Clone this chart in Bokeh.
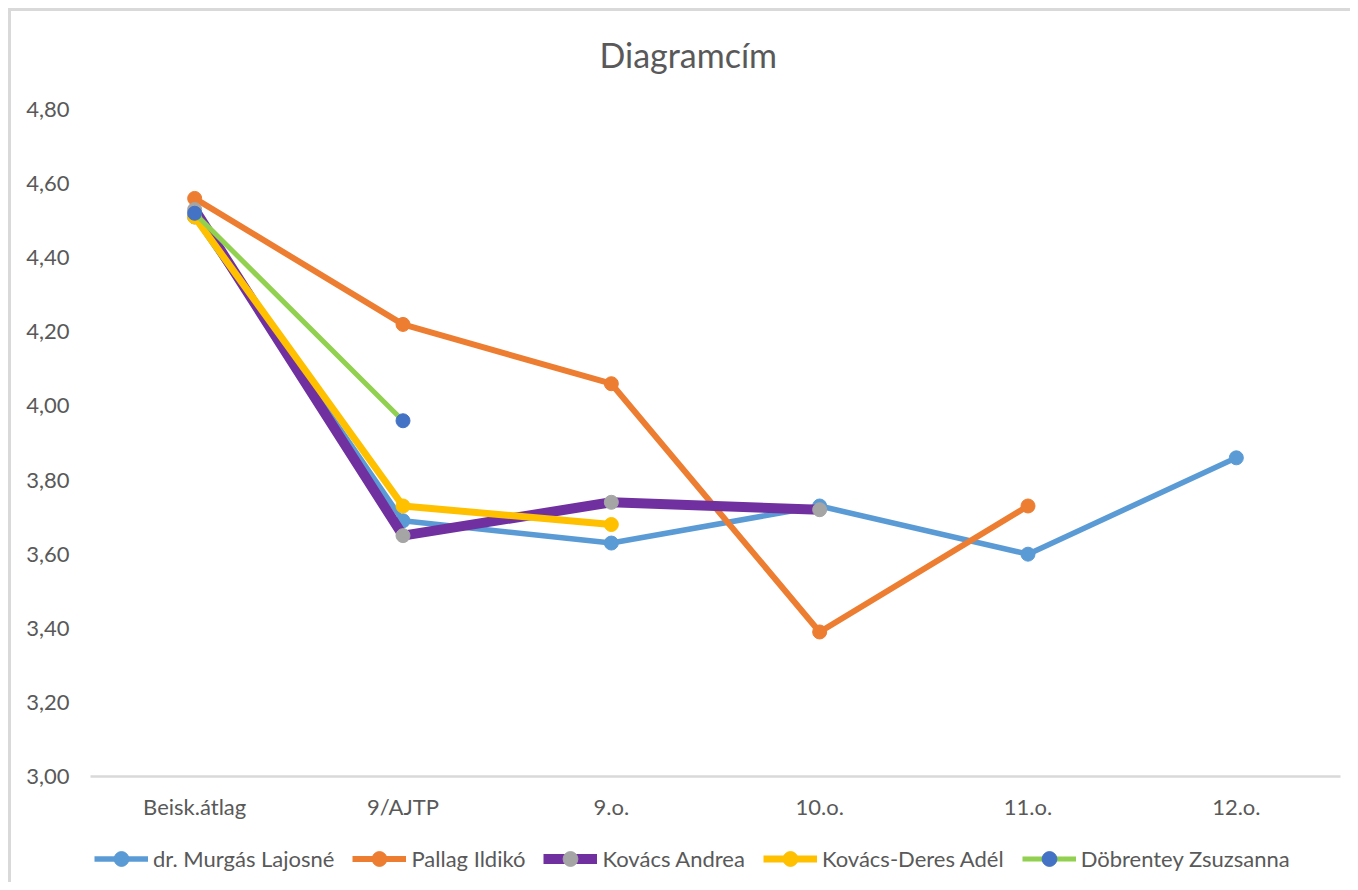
from bokeh.plotting import figure
from bokeh.layouts import column
from bokeh.models import (FactorRange, Range1d, FixedTicker, CustomJSTickFormatter,
                          Legend, LegendItem, Title)
from bokeh.embed import file_html
from bokeh.resources import INLINE

# ---- data ----
categories = ["Beisk.átlag", "9/AJTP", "9.o.", "10.o.", "11.o.", "12.o."]
murgas = [4.51, 3.69, 3.63, 3.73, 3.60, 3.86]
pallag = [4.56, 4.22, 4.06, 3.39, 3.73]
kovacs_andrea = [4.53, 3.65, 3.74, 3.72]
kovacs_deres = [4.51, 3.73, 3.68]
dobrentey = [4.52, 3.96]
series_names = ["dr. Murgás Lajosné", "Pallag Ildikó", "Kovács Andrea",
                "Kovács-Deres Adél", "Döbrentey Zsuzsanna"]
y_ticks = [3.0, 3.2, 3.4, 3.6, 3.8, 4.0, 4.2, 4.4, 4.6, 4.8]
title_text = "Diagramcím"

# ---- styles ----
line_colors = ["#5B9BD5", "#ED7D31", "#7030A0", "#FFC000", "#92D050"]
marker_colors = ["#5B9BD5", "#ED7D31", "#A5A5A5", "#FFC000", "#4472C4"]
line_widths = [5.5, 6, 10, 7, 5]
FONT = "Lato"
TXT = "#595959"

p = figure(x_range=FactorRange(*categories), y_range=Range1d(3.0, 4.8),
           width=1339, height=820, output_backend="svg", toolbar_location=None,
           min_border_left=79, min_border_right=10, min_border_top=98,
           min_border_bottom=55, title=None)

# spacer between frame and title, then the title itself
p.add_layout(Title(text=" ", text_font_size="1px", standoff=32), "above")
p.add_layout(Title(text=title_text, align="left", offset=509, text_font=FONT,
                   text_font_size="34px", text_font_style="normal",
                   text_color=TXT, standoff=0), "above")

p.outline_line_color = None
p.xgrid.grid_line_color = None
p.ygrid.grid_line_color = None

p.yaxis.ticker = FixedTicker(ticks=y_ticks)
p.yaxis.formatter = CustomJSTickFormatter(code="return tick.toFixed(2).replace('.', ',');")
p.yaxis.axis_line_color = None
p.yaxis.major_tick_line_color = None
p.yaxis.minor_tick_line_color = None
p.yaxis.major_label_standoff = 15
p.yaxis.major_label_text_font = FONT
p.yaxis.major_label_text_font_size = "22px"
p.yaxis.major_label_text_color = TXT

p.xaxis.axis_line_color = "#D9D9D9"
p.xaxis.axis_line_width = 2.5
p.xaxis.major_tick_line_color = None
p.xaxis.minor_tick_line_color = None
p.xaxis.major_label_standoff = 10
p.xaxis.major_label_text_font = FONT
p.xaxis.major_label_text_font_size = "22px"
p.xaxis.major_label_text_color = TXT

# legend strip below the chart (series drawn off-range so only legend shows)
lf = figure(x_range=FactorRange(*categories), y_range=Range1d(0, 1),
            width=1339, height=51, output_backend="svg", toolbar_location=None,
            min_border=0, x_axis_type=None, y_axis_type=None)
lf.outline_line_color = None
lf.xgrid.grid_line_color = None
lf.ygrid.grid_line_color = None

all_series = [murgas, pallag, kovacs_andrea, kovacs_deres, dobrentey]
items = []
for name, vals, lc, mc, lw in zip(series_names, all_series, line_colors,
                                  marker_colors, line_widths):
    xs = categories[:len(vals)]
    p.line(x=xs, y=vals, line_color=lc, line_width=lw, line_join="round",
           line_cap="round")
    p.scatter(x=xs, y=vals, marker="circle", size=14, fill_color=mc, line_color=mc)
    l1 = lf.line(x=xs, y=vals, line_color=lc, line_width=lw)
    l2 = lf.scatter(x=xs, y=vals, marker="circle", size=14, fill_color=mc,
                    line_color=mc)
    items.append(LegendItem(label=name, renderers=[l1, l2]))

legend = Legend(items=items, orientation="horizontal", location=(4, 5),
                glyph_width=54, glyph_height=37, label_standoff=5, spacing=18,
                border_line_color=None, background_fill_alpha=0,
                label_text_font=FONT, label_text_font_size="22px",
                label_text_color=TXT, padding=0, margin=0)
lf.add_layout(legend, "center")

layout = column(p, lf, spacing=0,
                styles={"border-left": "3px solid #D9D9D9",
                        "border-top": "3px solid #D9D9D9",
                        "margin-left": "8px", "margin-top": "8px"})

open("out.html", "w").write(file_html(layout, INLINE))
